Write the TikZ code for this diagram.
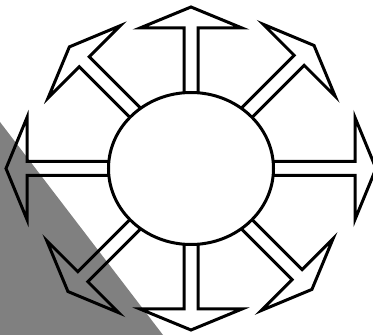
\documentclass[tikz,border=0pt]{standalone}
\usetikzlibrary{calc}
\definecolor{ShadeClr}{rgb}{0.5,0.5,0.5}
\tikzset{
  pics/ray/.style={code={
    \draw[miter limit=12] (0,7) -- ({#1-21},7) -- ({#1-21},51) -- (#1,0)
      -- ({#1-21},-51) -- ({#1-21},-7) -- (0,-7);
  }}
}

\begin{document}
\begin{tikzpicture}[x=1pt,y=1pt,line width=3pt]

\useasboundingbox (0,0) rectangle (373,335);
\clip (0,0) rectangle (373,335);

\coordinate (O) at (191,166.5);

% shaded corner
\fill[ShadeClr] (0,213) -- (0,0) -- (163,0) -- cycle;

\pic[rotate=0]   at (O) {ray=185};
\pic[rotate=45]  at (O) {ray=174};
\pic[rotate=90]  at (O) {ray=161.5};
\pic[rotate=135] at (O) {ray=172};
\pic[rotate=180] at (O) {ray=185};
\pic[rotate=225] at (O) {ray=174};
\pic[rotate=270] at (O) {ray=161.5};
\pic[rotate=315] at (O) {ray=171};

\draw[fill=white] (O) ellipse [x radius=82.5, y radius=76];

\end{tikzpicture}
\end{document}
